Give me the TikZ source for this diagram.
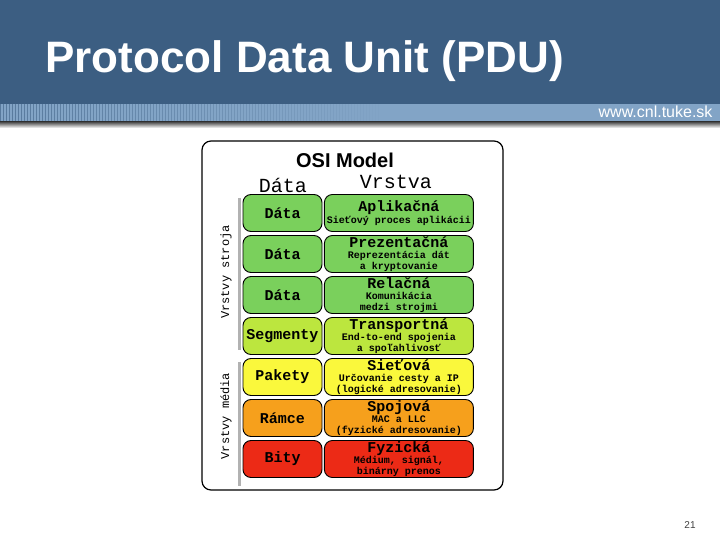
\documentclass[tikz,border=0pt]{standalone}
\usepackage{fontspec}
\setmainfont{Liberation Sans}
\newfontfamily\monofont{Liberation Mono}
\usetikzlibrary{positioning}

\definecolor{headblue}{RGB}{60,94,130}
\definecolor{stripblue}{RGB}{130,164,198}
\definecolor{appgreen}{RGB}{122,208,92}
\definecolor{trgreen}{RGB}{188,230,62}
\definecolor{netyellow}{RGB}{250,248,60}
\definecolor{linkorange}{RGB}{246,160,28}
\definecolor{phyred}{RGB}{236,42,22}

\tikzset{
  pdubox/.style={draw=black, line width=0.9pt, rounded corners=8pt, inner sep=0pt,
    minimum width=79pt, minimum height=37pt,
    font=\monofont\bfseries\fontsize{15}{15}\selectfont},
  layerbox/.style={draw=black, line width=0.9pt, rounded corners=8pt, inner sep=0pt,
    minimum width=149pt, minimum height=37pt, align=center,
    font=\monofont\bfseries\fontsize{10}{10.5}\selectfont},
  sidebar/.style={draw=black!30, line width=3pt},
  sidelabel/.style={rotate=90, font=\monofont\fontsize{12}{12}\selectfont}
}
\newcommand{\ltit}[1]{{\fontsize{15}{15}\selectfont #1}\\[1pt]}

\begin{document}
\begin{tikzpicture}[x=1pt,y=-1pt]
  \useasboundingbox (0,0) rectangle (720,540);
  % header
  \fill[headblue] (0,0) rectangle (720,104);
  \fill[stripblue] (0,104) rectangle (720,122);
  \foreach \s in {0,3,...,378}
    \draw[headblue, line width=0.8pt, opacity={0.6*(1-\s/390)}] (\s,104) -- (\s,122);
  \shade[top color=black!70, bottom color=white] (0,122) rectangle (720,128);
  \node[anchor=base west, text=white, font=\bfseries\fontsize{44}{44}\selectfont]
    (title) at (42,73) {Protocol Data Unit (PDU)};
  \node[anchor=base east, text=white, font=\fontsize{16}{16}\selectfont]
    (web) at (716,118) {www.cnl.tuke.sk};

  % frame
  \draw[line width=1.2pt, rounded corners=9pt, fill=white] (202,141) rectangle (503,490);
  \node[font=\bfseries\fontsize{20}{20}\selectfont, anchor=base] (osi) at (345,168) {OSI Model};
  \node[font=\monofont\fontsize{20}{20}\selectfont, anchor=base] (hdata) at (283,193) {Dáta};
  \node[font=\monofont\fontsize{20}{20}\selectfont, anchor=base] (hlayer) at (396,189) {Vrstva};

  % side bars
  \draw[sidebar] (239,198) -- (239,350);
  \draw[sidebar] (239,362) -- (239,486);
  \node[sidelabel] (host) at (226,272) {Vrstvy stroja};
  \node[sidelabel] (media) at (226,416) {Vrstvy média};

  % layers
  \node[pdubox, fill=appgreen] (pdu7) at (282.5,213) {Dáta};
  \node[layerbox, fill=appgreen, right=1.5pt of pdu7] (app)
    {\ltit{Aplikačná}Sieťový proces aplikácii};
  \node[pdubox, fill=appgreen] (pdu6) at (282.5,254) {Dáta};
  \node[layerbox, fill=appgreen, right=1.5pt of pdu6] (pres)
    {\ltit{Prezentačná}Reprezentácia dát\\a kryptovanie};
  \node[pdubox, fill=appgreen] (pdu5) at (282.5,295) {Dáta};
  \node[layerbox, fill=appgreen, right=1.5pt of pdu5] (sess)
    {\ltit{Relačná}Komunikácia\\medzi strojmi};
  \node[pdubox, fill=trgreen] (pdu4) at (282.5,336) {Segmenty};
  \node[layerbox, fill=trgreen, right=1.5pt of pdu4] (trans)
    {\ltit{Transportná}End-to-end spojenia\\a spoľahlivosť};
  \node[pdubox, fill=netyellow] (pdu3) at (282.5,377) {Pakety};
  \node[layerbox, fill=netyellow, right=1.5pt of pdu3] (net)
    {\ltit{Sieťová}Určovanie cesty a IP\\(logické adresovanie)};
  \node[pdubox, fill=linkorange] (pdu2) at (282.5,418) {Rámce};
  \node[layerbox, fill=linkorange, right=1.5pt of pdu2] (link)
    {\ltit{Spojová}MAC a LLC\\(fyzické adresovanie)};
  \node[pdubox, fill=phyred] (pdu1) at (282.5,459) {Bity};
  \node[layerbox, fill=phyred, right=1.5pt of pdu1] (phy)
    {\ltit{Fyzická}Médium, signál,\\binárny prenos};

  % page number
  \node[text=black!75, font=\fontsize{10}{10}\selectfont] (page) at (690,525) {21};
\end{tikzpicture}
\end{document}
